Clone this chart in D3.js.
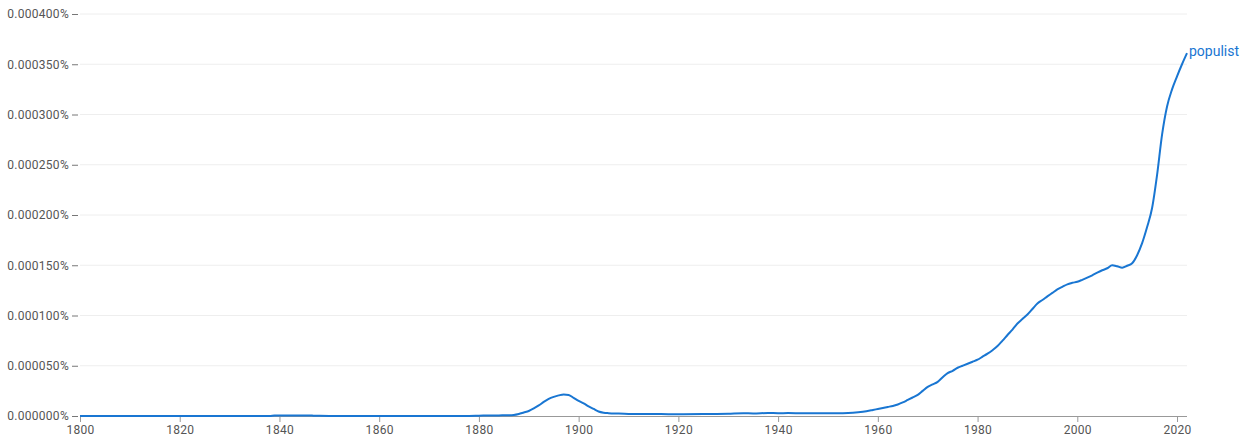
<!DOCTYPE html>
<html>
<head>
<meta charset="utf-8">
<script src="https://cdn.jsdelivr.net/npm/d3@7"></script>
<style>
  html, body { margin: 0; padding: 0; background: #fff; }
  svg { display: block; font-family: Roboto, "Noto Sans", Arial, sans-serif; }
</style>
</head>
<body>
<svg id="chart" width="1251" height="444"></svg>
<script>
// Data (values in units of 0.000001 %)
const seriesName = "populist";
const years = [1800, 1820, 1838, 1839, 1840, 1846, 1847, 1850, 1860, 1870, 1878, 1880, 1882, 1884, 1886, 1887, 1888, 1889,
  1890, 1891, 1892, 1893, 1894, 1895, 1896, 1897, 1898, 1899, 1900, 1901, 1902, 1903, 1904, 1905, 1906, 1908,
  1910, 1912, 1915, 1918, 1920, 1925, 1930, 1933, 1935, 1938, 1940, 1942, 1945, 1950, 1953, 1955, 1957, 1959,
  1960, 1961, 1962, 1963, 1964, 1965, 1966, 1967, 1968, 1969, 1970, 1971, 1972, 1973, 1974, 1975, 1976, 1977,
  1978, 1979, 1980, 1981, 1982, 1983, 1984, 1985, 1986, 1987, 1988, 1989, 1990, 1991, 1992, 1993, 1994, 1995,
  1996, 1997, 1998, 1999, 2000, 2001, 2002, 2003, 2004, 2005, 2006, 2007, 2008, 2009, 2010, 2011, 2012, 2013,
  2014, 2015, 2016, 2017, 2018, 2019, 2020, 2021, 2022];
const values = [0.1, 0.1, 0.1, 0.5, 0.6, 0.6, 0.2, 0.1, 0.1, 0.1, 0.1, 0.3, 0.5, 0.6, 0.7, 1.0, 2, 3.5,
  5, 7.5, 10.5, 14, 17, 19, 20.5, 21.5, 21, 18, 15, 12.5, 9.5, 7, 4.5, 3.3, 2.8, 2.4,
  2.1, 2, 2, 1.8, 1.8, 1.9, 2.3, 2.8, 2.6, 3, 2.8, 2.9, 2.7, 2.7, 2.8, 3.2, 4.2, 6,
  7, 8, 9, 10, 11.5, 13.5, 16, 18.5, 21, 25, 29, 31.5, 34, 38.5, 42.7, 45, 48, 50,
  52, 54, 56, 59, 62, 65.5, 69.6, 75, 80.6, 86, 92, 96.5, 101, 106.5, 112, 115.4, 119, 122.5,
  126, 128.5, 131, 132.5, 133.6, 135.5, 137.6, 140, 142.6, 145, 147, 150, 149, 147.6, 149.5, 152, 160, 172,
  188, 207, 240, 280, 308, 325, 338, 350, 361];
const yTicks = [0, 50, 100, 150, 200, 250, 300, 350, 400];
const xTicks = [1800, 1820, 1840, 1860, 1880, 1900, 1920, 1940, 1960, 1980, 2000, 2020];

const svg = d3.select("#chart");
const margin = { left: 80, right: 64, top: 14, bottom: 28 };
const W = 1251, H = 444;

const x = d3.scaleLinear().domain([1800, 2022]).range([margin.left, W - margin.right]);
const y = d3.scaleLinear().domain([0, 400]).range([H - margin.bottom, margin.top]);

// gridlines
svg.append("g")
  .selectAll("line")
  .data(yTicks.filter(d => d > 0))
  .join("line")
  .attr("x1", x(1800)).attr("x2", x(2022))
  .attr("y1", d => y(d)).attr("y2", d => y(d))
  .attr("stroke", "#eeeeee").attr("stroke-width", 1);

// y axis
const yAxis = d3.axisLeft(y).tickValues(yTicks).tickSize(6).tickPadding(3)
  .tickFormat(d => (d / 1e6).toFixed(6) + "%");
const gy = svg.append("g").attr("transform", `translate(${margin.left - 2},0)`).call(yAxis);
gy.select(".domain").remove();
gy.selectAll(".tick line").attr("stroke", "#777");
gy.selectAll(".tick text").attr("fill", "#555").style("font-size", "12px")
  .style("font-family", "Roboto, sans-serif").style("letter-spacing", "0.3px");

// x axis
const xAxis = d3.axisBottom(x).tickValues(xTicks).tickSize(6).tickPadding(3).tickFormat(d3.format("d"));
const gx = svg.append("g").attr("transform", `translate(0,${H - margin.bottom})`).call(xAxis);
gx.select(".domain").attr("stroke", "#999").attr("d", `M${x(1800)},0.5H${x(2022)}`);
gx.selectAll(".tick line").attr("stroke", "#999");
gx.selectAll(".tick text").attr("fill", "#555").style("font-size", "12px")
  .style("font-family", "Roboto, sans-serif").style("letter-spacing", "0.3px");

// line
const data = years.map((yr, i) => ({ yr, v: values[i] }));
const line = d3.line().x(d => x(d.yr)).y(d => y(d.v)).curve(d3.curveMonotoneX);
svg.append("path").datum(data)
  .attr("d", line)
  .attr("fill", "none")
  .attr("stroke", "#1976d2")
  .attr("stroke-width", 2)
  .attr("stroke-linejoin", "round");

// label
const last = data[data.length - 1];
svg.append("text")
  .attr("x", x(last.yr) + 2)
  .attr("y", y(last.v) - 2)
  .attr("dy", "0.35em")
  .attr("fill", "#1976d2")
  .style("font-size", "14px")
  .style("font-family", "Roboto, sans-serif")
  .text(seriesName);
</script>
</body>
</html>
